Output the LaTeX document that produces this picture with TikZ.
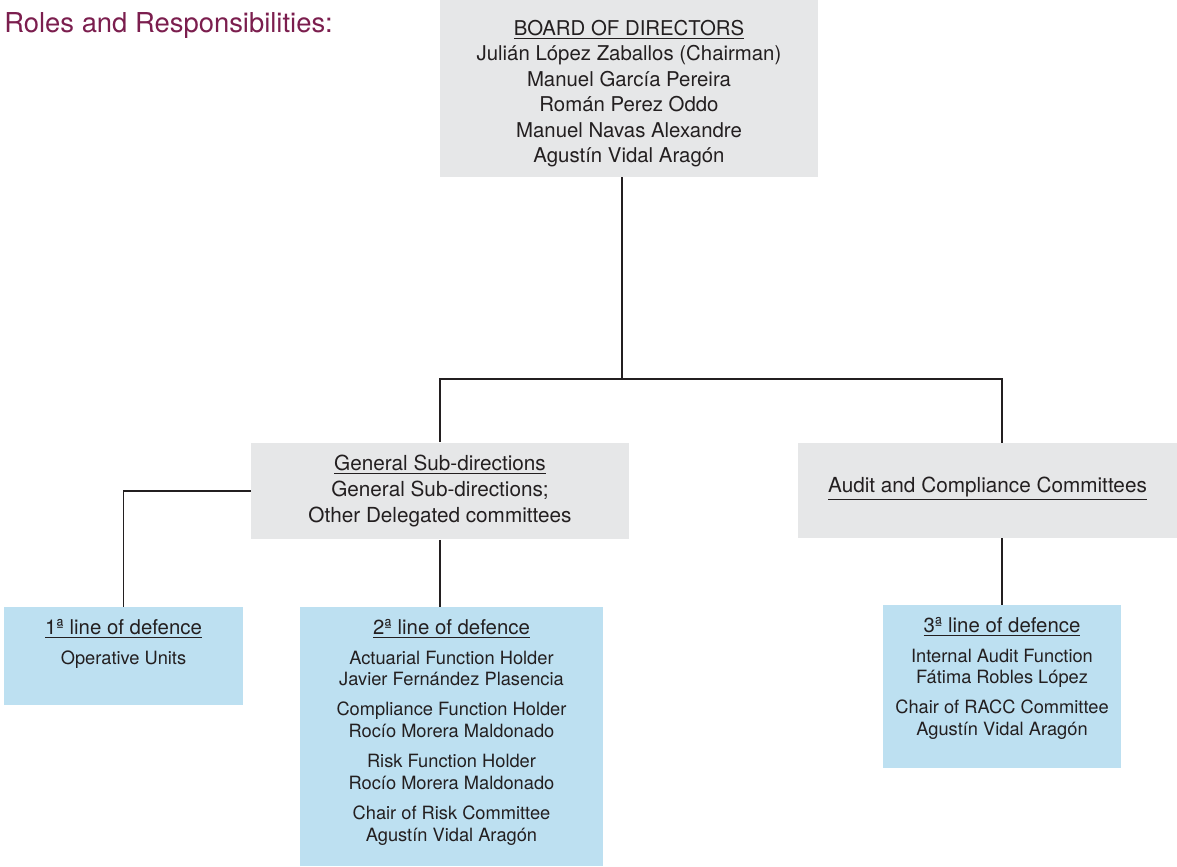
\documentclass[tikz,border=0pt]{standalone}
\usepackage{fontspec}
\setmainfont{TeX Gyre Heros}
\usetikzlibrary{positioning}

\definecolor{boxgray}{HTML}{E6E7E8}
\definecolor{boxblue}{HTML}{BDE0F1}
\definecolor{titleplum}{HTML}{7B1E4E}
\definecolor{inkgray}{HTML}{231F20}

\begin{document}
\begin{tikzpicture}[x=0.02cm, y=-0.02cm,
    graybox/.style={rectangle, fill=boxgray, inner sep=0pt, align=center, text=inkgray},
    bluebox/.style={rectangle, fill=boxblue, inner sep=0pt},
    boxtext/.style={inner sep=0pt, align=center, text=inkgray, font=\fontsize{10.4}{12.5}\selectfont},
    link/.style={line width=1.1pt, draw=inkgray}]
    \useasboundingbox (0,0) rectangle (1177,866);

    \node[anchor=base west, inner sep=0pt, text=titleplum, font=\fontsize{15.6}{18}\selectfont] (title) at (4,32) {Roles and Responsibilities:};

    % cajas grises
    \node[graybox, minimum width=7.56cm, minimum height=3.54cm] (board) at (629,88.5) {};
    \node[boxtext, below=0.40cm of board.north, font=\fontsize{11.6}{14.5}\selectfont] (boardtxt)
        {\underline{BOARD OF DIRECTORS}\\ Julián López Zaballos (Chairman)\\ Manuel García Pereira\\ Román Perez Oddo\\ Manuel Navas Alexandre\\ Agustín Vidal Aragón};
    \node[graybox, minimum width=7.56cm, minimum height=1.94cm, font=\fontsize{11.8}{14.7}\selectfont] (gen) at (440,491)
        {\underline{General Sub-directions}\\ General Sub-directions;\\ Other Delegated committees};
    \node[graybox, minimum width=7.58cm, minimum height=1.9cm] (audit) at (987.5,490.5) {};
    \node[boxtext, below=0.68cm of audit.north, font=\fontsize{11.8}{14.7}\selectfont] (audittxt)
        {\underline{Audit and Compliance Committees}};

    % lineas de defensa
    \node[bluebox, minimum width=4.78cm, minimum height=1.96cm] (line1) at (123.5,656) {};
    \node[bluebox, minimum width=6.06cm, minimum height=5.18cm] (line2) at (451.5,736.5) {};
    \node[bluebox, minimum width=4.76cm, minimum height=3.26cm] (line3) at (1002,686.5) {};

    \node[boxtext, below=0.24cm of line1.north] (line1txt)
        {{\fontsize{11.6}{12.5}\selectfont\underline{1ª line of defence}}\\[4.5pt] Operative Units};
    \node[boxtext, below=0.24cm of line2.north] (line2txt)
        {{\fontsize{11.6}{12.5}\selectfont\underline{2ª line of defence}}\\[4.5pt]
         Actuarial Function Holder\\ Javier Fernández Plasencia\\[4.5pt]
         Compliance Function Holder\\ Rocío Morera Maldonado\\[4.5pt]
         Risk Function Holder\\ Rocío Morera Maldonado\\[4.5pt]
         Chair of Risk Committee\\ Agustín Vidal Aragón};
    \node[boxtext, below=0.24cm of line3.north] (line3txt)
        {{\fontsize{11.6}{12.5}\selectfont\underline{3ª line of defence}}\\[4.5pt]
         Internal Audit Function\\ Fátima Robles López\\[4.5pt]
         Chair of RACC Committee\\ Agustín Vidal Aragón};

    % conexiones
    \coordinate (split) at (622,379);
    \draw[link] (board.south -| split) -- (split);
    \draw[link] (gen.north) |- (split) -| (line3 |- audit.north);
    \draw[link] (line3 |- audit.south) -- (line3.north);
    \draw[link] (gen.west) -| (line1.north);
    \draw[link] (gen.south) -- (gen.south |- line2.north);
\end{tikzpicture}
\end{document}
